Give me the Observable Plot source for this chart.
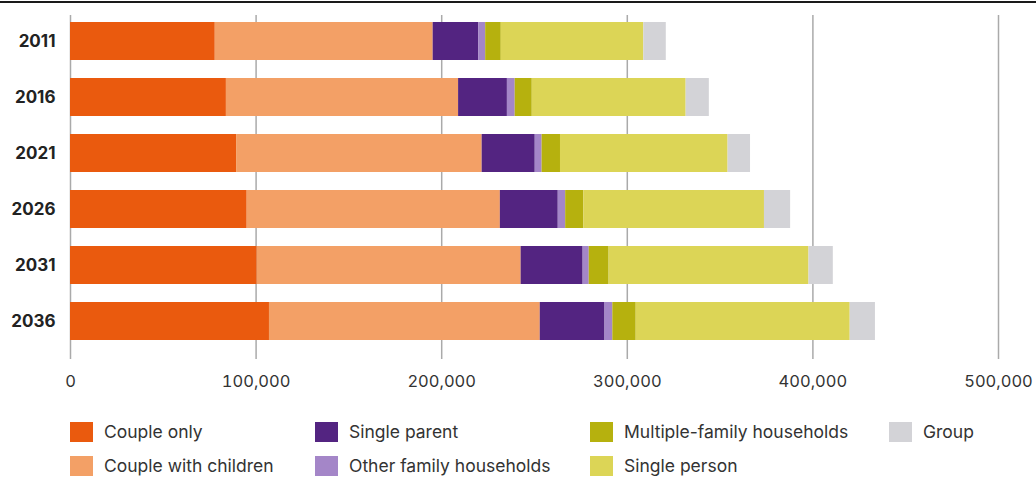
<!DOCTYPE html>
<html>
<head>
<meta charset="utf-8">
<script src="https://cdn.jsdelivr.net/npm/d3@7"></script>
<script src="https://cdn.jsdelivr.net/npm/@observablehq/plot@0.6"></script>
<style>
  html, body { margin: 0; padding: 0; background: #fff; }
  body { width: 1036px; height: 479px; position: relative; overflow: hidden; font-family: Inter, "Noto Sans", sans-serif; }
  #topline { position: absolute; left: 0; top: 1px; width: 1036px; height: 2px; background: #1a1a1a; }
  #chart { position: absolute; left: 0; top: 0; }
  #legend { position: absolute; left: 70px; top: 415px; display: grid; grid-template-columns: 245px 275px 299px auto; grid-template-rows: 34px 34px; grid-auto-flow: column; }
  .item { display: flex; align-items: center; font-size: 17.5px; line-height: 20px; color: #333; white-space: nowrap; }
  .sw { width: 23px; height: 20px; margin-right: 11px; flex: none; }
</style>
</head>
<body>
<div id="chart"></div>
<div id="topline"></div>
<div id="legend"></div>
<script>
const years = ["2011", "2016", "2021", "2026", "2031", "2036"];
const categories = ["Couple only", "Couple with children", "Single parent", "Other family households", "Multiple-family households", "Single person", "Group"];
const colors = ["#EA5A0E", "#F3A066", "#532481", "#A486C8", "#B6B10E", "#DCD556", "#D3D3D7"];
const coupleOnly = [78000, 84000, 89500, 95200, 100600, 107200];
const coupleWithChildren = [117400, 125100, 132300, 136400, 142200, 145900];
const singleParent = [24600, 26300, 28600, 31200, 33400, 34900];
const otherFamily = [3700, 4200, 3700, 4000, 3300, 4200];
const multipleFamily = [8400, 9200, 9900, 9800, 10700, 12600];
const singlePerson = [76800, 82900, 90300, 97300, 107700, 115300];
const group = [12100, 12500, 12100, 14100, 13100, 13600];
const xTicks = [0, 100000, 200000, 300000, 400000, 500000];

const series = [coupleOnly, coupleWithChildren, singleParent, otherFamily, multipleFamily, singlePerson, group];
const data = [];
years.forEach((y, i) => {
  categories.forEach((c, j) => data.push({year: y, category: c, value: series[j][i]}));
});

const chart = Plot.plot({
  width: 1036,
  height: 400,
  marginLeft: 70,
  marginRight: 38,
  marginTop: 15,
  marginBottom: 41,
  style: {fontFamily: "Inter, 'Noto Sans', sans-serif", background: "transparent"},
  x: {domain: [0, 500000], ticks: xTicks, tickFormat: d3.format(","), tickSize: 0, tickPadding: 16, label: null},
  y: {domain: years, paddingInner: 0.324, paddingOuter: 0.2, align: 0.28, tickSize: 0, tickPadding: 15, label: null},
  color: {domain: categories, range: colors},
  marks: [
    Plot.ruleX(xTicks, {stroke: "#aaaaaa", strokeWidth: 1.5}),
    Plot.barX(data, {x: "value", y: "year", fill: "category", order: categories}),
    Plot.axisX({ticks: xTicks, tickFormat: d3.format(","), tickSize: 0, tickPadding: 16, fontSize: 16.5, fill: "#333", label: null}),
    Plot.axisY({tickSize: 0, tickPadding: 15, fontSize: 17, fontWeight: 700, fill: "#222", label: null})
  ]
});
document.getElementById("chart").appendChild(chart);

const legend = document.getElementById("legend");
categories.forEach((c, j) => {
  const it = document.createElement("div");
  it.className = "item";
  const sw = document.createElement("span");
  sw.className = "sw";
  sw.style.background = colors[j];
  it.appendChild(sw);
  it.appendChild(document.createTextNode(c));
  legend.appendChild(it);
});
</script>
</body>
</html>
